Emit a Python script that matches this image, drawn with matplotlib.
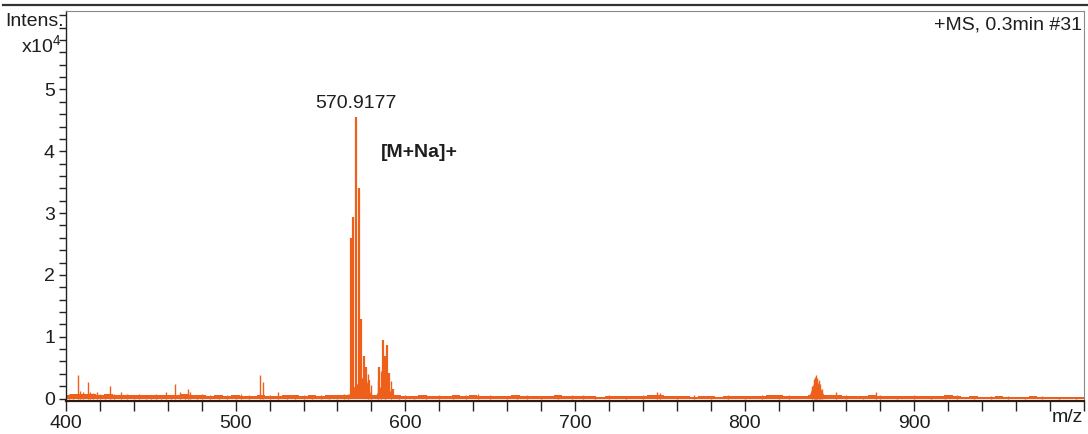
import numpy as np
import matplotlib
matplotlib.use("Agg")
import matplotlib.pyplot as plt
from matplotlib.lines import Line2D
from matplotlib.ticker import MultipleLocator

plt.rcParams['font.family'] = ['Liberation Sans Narrow', 'Liberation Sans', 'DejaVu Sans']

ORANGE = '#EE5F1B'
TEXT = '#1e1e1e'
FS = 14

# Baseline noise level (x10^4 counts), sampled every 5 m/z from 400 to 1000
baseline_mz = np.arange(400, 1001, 5)
baseline_int = [
    0.06, 0.07, 0.08, 0.07, 0.06, 0.07, 0.06, 0.05, 0.06, 0.05, 0.05, 0.06, 0.05, 0.06, 0.07, 0.06, 0.05,
    0.04, 0.05, 0.04, 0.05, 0.04, 0.04, 0.05, 0.04, 0.04, 0.05, 0.05, 0.04, 0.05, 0.04, 0.05, 0.05, 0.06,
    0.06, 0.06, 0.05, 0.06, 0.06, 0.05,
    0.04, 0.04, 0.05, 0.04, 0.04, 0.04, 0.05, 0.04, 0.05, 0.04, 0.04, 0.04, 0.04, 0.05, 0.04, 0.04, 0.04, 0.04, 0.05, 0.04,
    0.04, 0.04, 0.04, 0.03, 0.04, 0.04, 0.04, 0.04, 0.04, 0.05, 0.06, 0.04, 0.04, 0.04, 0.03, 0.04, 0.04, 0.03, 0.04, 0.04,
    0.04, 0.04, 0.04, 0.05, 0.05, 0.04, 0.04, 0.04, 0.05, 0.06, 0.05, 0.05, 0.04, 0.04, 0.04, 0.05, 0.04, 0.04, 0.04, 0.04,
    0.04, 0.04, 0.04, 0.04, 0.05, 0.04, 0.03, 0.04, 0.03, 0.03, 0.04, 0.03, 0.03, 0.03, 0.04, 0.03, 0.03, 0.03, 0.03, 0.03, 0.03,
]

# Dense ion envelopes under the isotope clusters
env1_mz = [566.5, 567.5, 568.5, 570.0, 572.0, 573.5, 574.5, 575.5, 576.5, 577.5, 578.5, 579.5, 580.5]
env1_int = [0.06, 0.10, 0.15, 0.20, 0.25, 0.30, 0.34, 0.36, 0.33, 0.26, 0.16, 0.08, 0.05]
env2_mz = [582.5, 583.5, 584.5, 585.5, 586.5, 587.5, 588.5, 589.5, 590.5, 591.5, 592.5, 593.5]
env2_int = [0.05, 0.10, 0.17, 0.20, 0.22, 0.21, 0.20, 0.18, 0.15, 0.10, 0.06, 0.05]
env3_mz = [837.5, 838.5, 839.5, 840.5, 841.5, 842.5, 843.5, 844.5, 845.5, 846.5, 847.5]
env3_int = [0.05, 0.08, 0.16, 0.24, 0.28, 0.29, 0.24, 0.18, 0.11, 0.07, 0.05]

# Main [M+Na]+ isotope cluster and neighbouring ions
peak_mz = [568.1, 569.4, 570.9177, 572.5, 574.1, 575.5, 576.9, 578.8,
           584.7, 586.7, 587.9, 589.0, 590.6, 592.6]
peak_int = [2.60, 2.94, 4.55, 3.40, 1.29, 0.68, 0.51, 0.30,
            0.51, 0.95, 0.68, 0.87, 0.41, 0.15]

# Minor noise ions across the scan
noise_mz = [402, 404, 407, 408, 410, 412.8, 414, 416, 418, 420, 423, 426.2, 428, 432.5, 436,
            440, 443, 447, 450, 453, 456, 459, 462, 464, 467, 470, 471.8, 473, 477, 480,
            485, 490, 495, 500, 503, 508, 514.6, 516.2, 520, 524.8, 530, 535, 540.5, 545,
            550, 555, 560, 564, 566, 577.8, 579.6, 583.9, 585.4, 588.3, 591.4,
            596, 600, 605, 612, 620, 628, 636, 643, 650, 660, 666,
            672, 680, 690, 698, 705, 712, 720, 730, 740, 748.6, 750, 760, 770, 780, 790,
            800, 810, 820, 826, 839.6, 840.7, 841.4, 842.1, 842.8, 843.6, 844.4, 845.3,
            853.8, 860, 870, 877.4, 880, 890, 900, 910, 918, 925, 935,
            945, 955, 965, 975, 985, 995]
noise_int = [0.08, 0.06, 0.38, 0.12, 0.10, 0.27, 0.10, 0.09, 0.10, 0.08, 0.07, 0.20, 0.08, 0.10, 0.07,
             0.06, 0.08, 0.06, 0.05, 0.07, 0.05, 0.10, 0.06, 0.23, 0.11, 0.08, 0.15, 0.10, 0.06, 0.07,
             0.05, 0.06, 0.05, 0.05, 0.07, 0.05, 0.38, 0.26, 0.05, 0.11, 0.06, 0.05, 0.06, 0.05,
             0.06, 0.05, 0.06, 0.07, 0.08, 0.40, 0.22, 0.30, 0.45, 0.60, 0.28,
             0.06, 0.05, 0.04, 0.05, 0.05, 0.04, 0.05, 0.08, 0.05, 0.04, 0.05,
             0.05, 0.04, 0.05, 0.06, 0.05, 0.04, 0.05, 0.04, 0.05, 0.11, 0.09, 0.04, 0.05, 0.04, 0.05,
             0.04, 0.06, 0.06, 0.05, 0.20, 0.31, 0.35, 0.38, 0.33, 0.30, 0.24, 0.16,
             0.10, 0.05, 0.04, 0.10, 0.06, 0.04, 0.05, 0.04, 0.05, 0.05, 0.04,
             0.04, 0.04, 0.03, 0.04, 0.03, 0.03]

x_major = [400, 500, 600, 700, 800, 900]
y_major = [0, 1, 2, 3, 4, 5]

W, H = 1088, 434
fig = plt.figure(figsize=(W / 100, H / 100), dpi=100)
ax = fig.add_axes([66 / W, 1 - 401 / H, (1084 - 66) / W, (401 - 11) / H])

ax.fill_between(baseline_mz, 0, baseline_int, step='mid', color=ORANGE, lw=0)
for m, v in ((env1_mz, env1_int), (env2_mz, env2_int), (env3_mz, env3_int)):
    ax.fill_between(m, 0, v, color=ORANGE, lw=0)
ax.vlines(noise_mz, 0, noise_int, color=ORANGE, lw=1.0)
ax.vlines(peak_mz, 0, peak_int, color=ORANGE, lw=1.6)

ax.set_xlim(400, 1000)
ax.set_ylim(-0.04, 6.27)

ax.set_xticks(x_major)
ax.set_xticklabels([str(v) for v in x_major])
ax.xaxis.set_minor_locator(MultipleLocator(20))
ax.set_yticks(y_major)
ax.set_yticklabels([str(v) for v in y_major])
ax.yaxis.set_minor_locator(MultipleLocator(0.2))

ax.tick_params(axis='x', which='both', direction='out', length=7, width=1, color='#222',
               labelsize=FS, labelcolor=TEXT, pad=3)
ax.tick_params(axis='y', which='both', direction='out', length=5, width=1, color='#222',
               labelsize=FS, labelcolor=TEXT, pad=3)

for side in ('top', 'right'):
    ax.spines[side].set_color('#8a8a8a')
    ax.spines[side].set_linewidth(0.8)
ax.spines['left'].set_color('#222')
ax.spines['left'].set_linewidth(1.0)
ax.spines['bottom'].set_color('#2a1a10')
ax.spines['bottom'].set_linewidth(1.6)

# Annotations
ax.text(570.9177, 4.55 + 0.09, '570.9177', ha='center', va='bottom', fontsize=FS, color=TEXT)
ax.text(585.5, 3.98, '[M+Na]+', ha='left', va='center', fontsize=FS, fontweight='bold', color=TEXT)
ax.text(0.998, 0.985, '+MS, 0.3min #31', transform=ax.transAxes, ha='right', va='top',
        fontsize=FS, color=TEXT)

fig.text(64 / W, 1 - 22 / H, 'Intens.', ha='right', va='center', fontsize=FS, color=TEXT)
fig.text(62 / W, 1 - 46 / H, r'x10$^{\mathregular{4}}$', ha='right', va='center', fontsize=FS, color=TEXT)
fig.text(1083 / W, 1 - 418 / H, 'm/z', ha='right', va='center', fontsize=FS, color=TEXT)

# Frame line along the top of the page
fig.add_artist(Line2D([3 / W, 1.0], [1 - 4.5 / H] * 2, color='#333333', lw=1.6))

fig.savefig('out.png', dpi=100)
